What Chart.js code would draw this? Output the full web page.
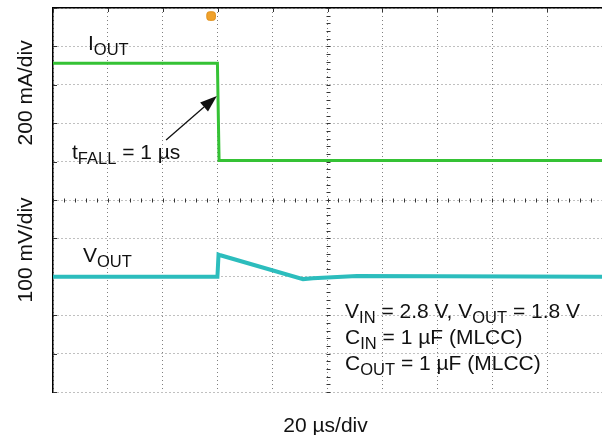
<!DOCTYPE html>
<html>
<head>
<meta charset="utf-8">
<script src="https://cdn.jsdelivr.net/npm/chart.js@4.4.1/dist/chart.umd.min.js"></script>
<style>
    html, body { margin: 0; padding: 0; background: #fff; }
    canvas { display: block; }
</style>
</head>
<body>
<canvas id="scope" width="602" height="435"></canvas>
<script>
// time axis in us (20 us/div, 10 div), vertical axis in divisions (-5..5)
var ioutTime = [0, 59.9, 60.5, 200];
var ioutDiv = [3.56, 3.56, 1.03, 1.03];

var voutTime = [0, 59.9, 60.3, 61.0, 91.1, 94.7, 100, 110.7, 200];
var voutDiv = [-2.0, -2.0, -1.42, -1.44, -2.06, -2.04, -2.02, -1.98, -2.0];

var triggerTime = [57.6];
var triggerDiv = [4.79];

var xTicks = [0, 20, 40, 60, 80, 100, 120, 140, 160, 180, 200];
var yTicks = [-5, -4, -3, -2, -1, 0, 1, 2, 3, 4, 5];

var FONT = '"Liberation Sans", Arial, Helvetica, sans-serif';

function toPoints(xs, ys) {
    var pts = [];
    for (var i = 0; i < xs.length; i++) {
        pts.push({ x: xs[i], y: ys[i] });
    }
    return pts;
}

// text pieces: [text, isSubscript]
var traceLabels = [
    { t: 12.75, d: 3.91, parts: [['I', false], ['OUT', true]] },
    { t: 10.9, d: -1.61, parts: [['V', false], ['OUT', true]] },
    { t: 6.9, d: 1.07, parts: [['t', false], ['FALL', true], [' = 1 µs', false]] },
    { t: 106.4, d: -3.07, parts: [['V', false], ['IN', true], [' = 2.8 V, V', false], ['OUT', true], [' = 1.8 V', false]] },
    { t: 106.4, d: -3.75, parts: [['C', false], ['IN', true], [' = 1 µF (MLCC)', false]] },
    { t: 106.4, d: -4.43, parts: [['C', false], ['OUT', true], [' = 1 µF (MLCC)', false]] }
];

var arrowFrom = { t: 41.2, d: 1.56 };
var arrowTo = { t: 59.7, d: 2.71 };

function drawRich(ctx, x, y, parts) {
    var cx = x;
    for (var i = 0; i < parts.length; i++) {
        var sub = parts[i][1];
        ctx.font = (sub ? '16.5px ' : '21px ') + FONT;
        ctx.fillText(parts[i][0], cx, sub ? y + 5 : y);
        cx += ctx.measureText(parts[i][0]).width;
    }
}

var scopeOverlay = {
    id: 'scopeOverlay',
    beforeDatasetsDraw: function(chart) {
        var ctx = chart.ctx;
        var xs = chart.scales.x;
        var ys = chart.scales.y;
        var area = chart.chartArea;
        var cx = Math.round(xs.getPixelForValue(100)) + 0.5;
        var cy = Math.round(ys.getPixelForValue(0)) + 0.5;
        ctx.save();
        ctx.strokeStyle = '#333';
        ctx.lineWidth = 1;
        ctx.beginPath();
        // minor ticks on center cross, 5 per division
        for (var d = -25; d <= 25; d++) {
            var py = Math.round(ys.getPixelForValue(d / 5)) + 0.5;
            ctx.moveTo(cx - 2, py);
            ctx.lineTo(cx + 2, py);
        }
        for (var k = 0; k <= 50; k++) {
            var px = Math.round(xs.getPixelForValue(k * 4)) + 0.5;
            ctx.moveTo(px, cy - 2);
            ctx.lineTo(px, cy + 2);
        }
        // major ticks on left and top frame
        for (var i = 0; i < yTicks.length; i++) {
            var yy = Math.round(ys.getPixelForValue(yTicks[i])) + 0.5;
            ctx.moveTo(area.left, yy);
            ctx.lineTo(area.left + 4, yy);
        }
        for (var j = 0; j < xTicks.length; j++) {
            var xx = Math.round(xs.getPixelForValue(xTicks[j])) + 0.5;
            ctx.moveTo(xx, area.top);
            ctx.lineTo(xx, area.top + 4);
        }
        ctx.stroke();
        ctx.restore();
    },
    afterDatasetsDraw: function(chart) {
        var ctx = chart.ctx;
        var xs = chart.scales.x;
        var ys = chart.scales.y;
        var area = chart.chartArea;
        ctx.save();
        ctx.fillStyle = '#111';
        ctx.textBaseline = 'alphabetic';
        ctx.textAlign = 'left';

        for (var i = 0; i < traceLabels.length; i++) {
            var lb = traceLabels[i];
            drawRich(ctx, xs.getPixelForValue(lb.t), ys.getPixelForValue(lb.d), lb.parts);
        }

        // arrow to the falling edge
        var x1 = xs.getPixelForValue(arrowFrom.t), y1 = ys.getPixelForValue(arrowFrom.d);
        var x2 = xs.getPixelForValue(arrowTo.t), y2 = ys.getPixelForValue(arrowTo.d);
        var ang = Math.atan2(y2 - y1, x2 - x1);
        var headLen = 17, headW = 6;
        var bx = x2 - headLen * Math.cos(ang), by = y2 - headLen * Math.sin(ang);
        ctx.strokeStyle = '#111';
        ctx.lineWidth = 1.3;
        ctx.beginPath();
        ctx.moveTo(x1, y1);
        ctx.lineTo(bx, by);
        ctx.stroke();
        ctx.beginPath();
        ctx.moveTo(x2, y2);
        ctx.lineTo(bx + headW * Math.sin(ang), by - headW * Math.cos(ang));
        ctx.lineTo(bx - headW * Math.sin(ang), by + headW * Math.cos(ang));
        ctx.closePath();
        ctx.fill();

        // axis titles
        ctx.font = '21px ' + FONT;
        ctx.textAlign = 'center';
        ctx.fillText('20 µs/div', (area.left + area.right) / 2 - 2, area.bottom + 39.5);

        ctx.save();
        ctx.translate(area.left - 21, ys.getPixelForValue(2.79));
        ctx.rotate(-Math.PI / 2);
        ctx.fillText('200 mA/div', 0, 0);
        ctx.restore();

        ctx.save();
        ctx.translate(area.left - 21, ys.getPixelForValue(-1.3));
        ctx.rotate(-Math.PI / 2);
        ctx.fillText('100 mV/div', 0, 0);
        ctx.restore();

        ctx.restore();
    }
};

new Chart(document.getElementById('scope'), {
    type: 'line',
    data: {
        datasets: [
            {
                label: 'IOUT',
                data: toPoints(ioutTime, ioutDiv),
                borderColor: '#35c235',
                borderWidth: 3,
                pointRadius: 0,
                tension: 0
            },
            {
                label: 'VOUT',
                data: toPoints(voutTime, voutDiv),
                borderColor: '#2cbdbd',
                borderWidth: 4,
                pointRadius: 0,
                tension: 0
            },
            {
                label: 'Trigger',
                data: toPoints(triggerTime, triggerDiv),
                showLine: false,
                pointStyle: 'rectRounded',
                pointRadius: 5,
                backgroundColor: '#f0a22c',
                borderColor: '#e0901c',
                borderWidth: 1
            }
        ]
    },
    options: {
        responsive: false,
        animation: false,
        devicePixelRatio: 1,
        layout: { autoPadding: false, padding: { left: 53, top: 8, right: 0, bottom: 43 } },
        plugins: {
            legend: { display: false },
            tooltip: { enabled: false }
        },
        scales: {
            x: {
                type: 'linear',
                min: 0,
                max: 200,
                afterBuildTicks: function(scale) {
                    scale.ticks = xTicks.map(function(v) { return { value: v }; });
                },
                ticks: { display: false },
                grid: { color: '#808080', lineWidth: 1, drawTicks: false },
                border: { display: false, dash: [1, 3] }
            },
            xTop: {
                type: 'linear',
                position: 'top',
                min: 0,
                max: 200,
                ticks: { display: false },
                grid: { display: false, drawTicks: false },
                border: { display: true, color: '#000', width: 1.5 }
            },
            y: {
                type: 'linear',
                min: -5,
                max: 5,
                afterBuildTicks: function(scale) {
                    scale.ticks = yTicks.map(function(v) { return { value: v }; });
                },
                ticks: { display: false },
                grid: { color: '#808080', lineWidth: 1, drawTicks: false },
                border: { display: true, color: '#000', width: 1.5, dash: [1, 3] }
            }
        }
    },
    plugins: [scopeOverlay]
});
</script>
</body>
</html>
